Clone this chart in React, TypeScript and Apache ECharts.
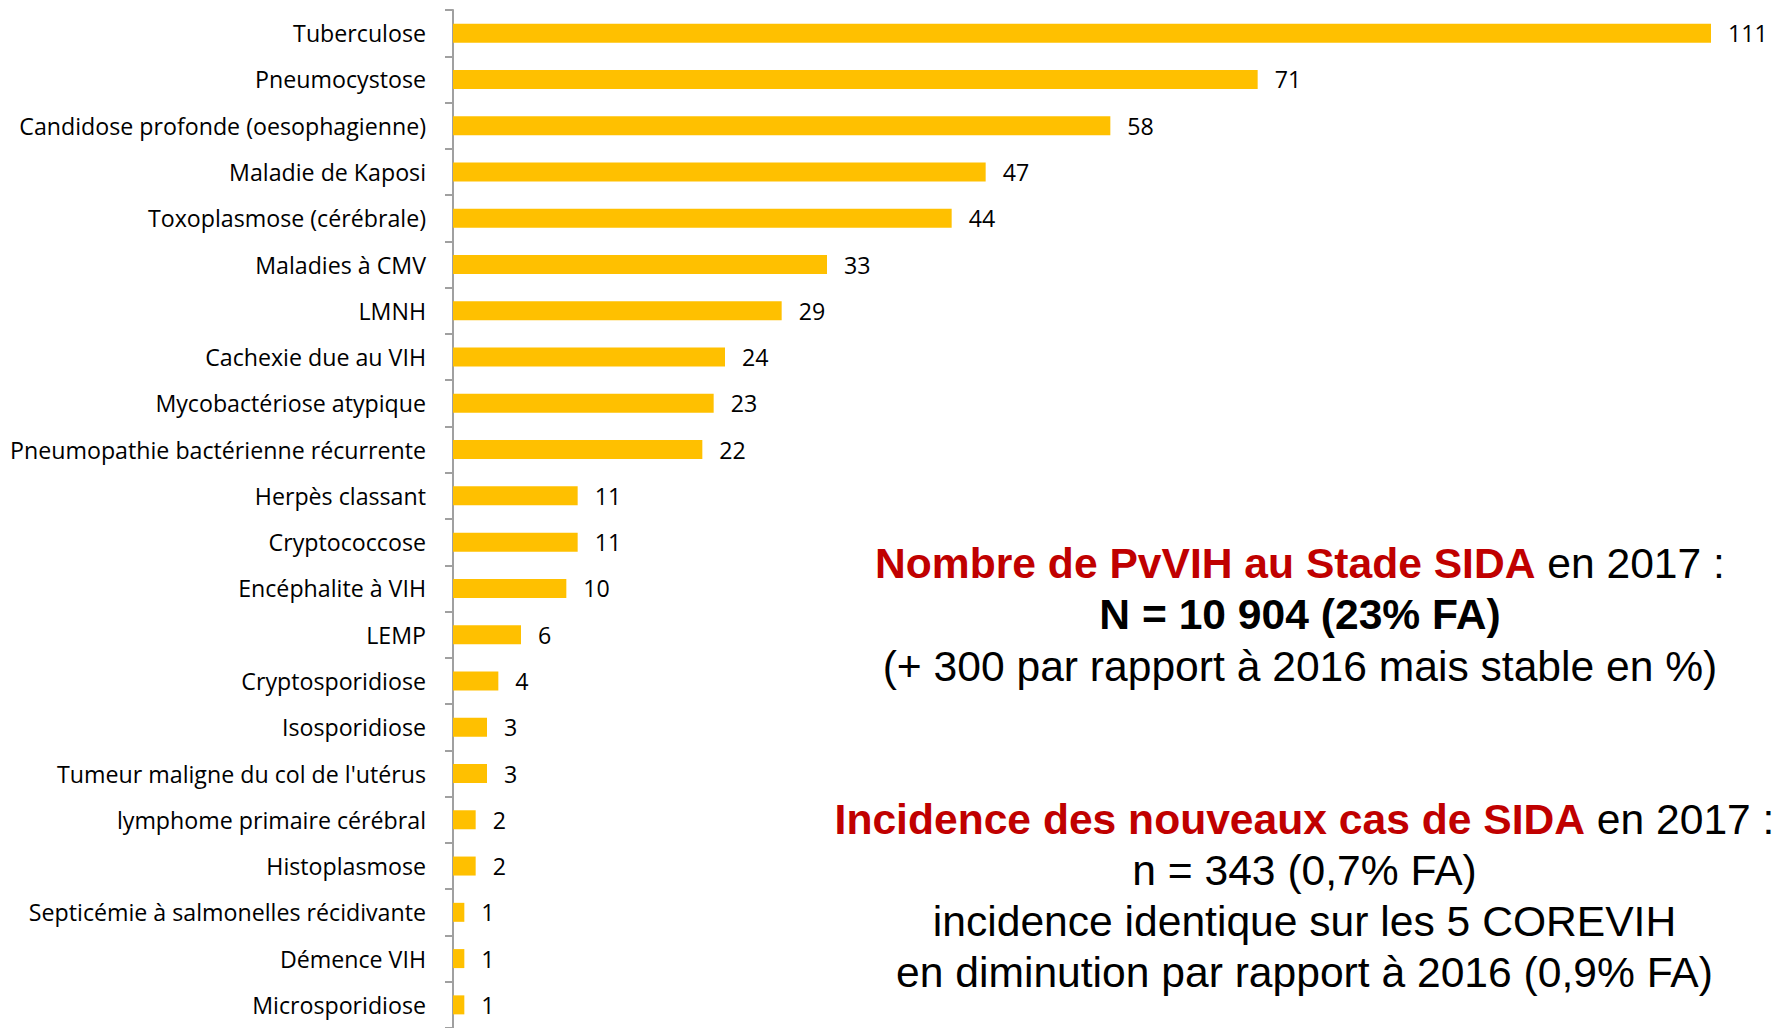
import React, { useEffect, useRef } from "react";
import * as echarts from "echarts";

const categories = [
  "Tuberculose",
  "Pneumocystose",
  "Candidose profonde (oesophagienne)",
  "Maladie de Kaposi",
  "Toxoplasmose (cérébrale)",
  "Maladies à CMV",
  "LMNH",
  "Cachexie due au VIH",
  "Mycobactériose atypique",
  "Pneumopathie bactérienne récurrente",
  "Herpès classant",
  "Cryptococcose",
  "Encéphalite à VIH",
  "LEMP",
  "Cryptosporidiose",
  "Isosporidiose",
  "Tumeur maligne du col de l'utérus",
  "lymphome primaire cérébral",
  "Histoplasmose",
  "Septicémie à salmonelles récidivante",
  "Démence VIH",
  "Microsporidiose",
];

const values = [111, 71, 58, 47, 44, 33, 29, 24, 23, 22, 11, 11, 10, 6, 4, 3, 3, 2, 2, 1, 1, 1];

const block1 = [
  "{r|Nombre de PvVIH au Stade SIDA}{n| en 2017 :}",
  "{b|N = 10 904 (23% FA)}",
  "{n|(+ 300 par rapport à 2016 mais stable en %)}",
];
const block2 = [
  "{r|Incidence des nouveaux cas de SIDA}{n| en 2017 :}",
  "{n|n = 343 (0,7% FA)}",
  "{n|incidence identique sur les 5 COREVIH}",
  "{n|en diminution par rapport à 2016 (0,9% FA)}",
];

export default function App() {
  const ref = useRef<HTMLDivElement>(null);
  useEffect(() => {
    if (!ref.current) return;
    const chart = echarts.init(ref.current, null, { renderer: "svg" });
    const FS = 42.6;
    const rich = {
      r: { fontFamily: "Liberation Sans", fontWeight: "bold", fontSize: FS, fill: "#C00000", color: "#C00000" },
      n: { fontFamily: "Liberation Sans", fontWeight: "normal", fontSize: FS, fill: "#000000", color: "#000000" },
      b: { fontFamily: "Liberation Sans", fontWeight: "bold", fontSize: FS, fill: "#000000", color: "#000000" },
    };
    const mk = (lines: string[], cx: number, ys: number[]) =>
      lines.map((t, i) => ({
        type: "text",
        x: cx,
        y: ys[i],
        style: {
          text: t,
          rich,
          align: "center",
          verticalAlign: "middle",
          fontFamily: "Liberation Sans",
          fontSize: FS,
        },
      }));
    chart.setOption({
      animation: false,
      backgroundColor: "#ffffff",
      grid: { left: 453, right: 70, top: 10, bottom: -4.5, containLabel: false },
      xAxis: {
        type: "value",
        min: 0,
        max: 111,
        show: false,
        splitLine: { show: false },
      },
      yAxis: {
        type: "category",
        data: categories,
        inverse: true,
        axisLine: { show: true, lineStyle: { color: "#A0A0A0", width: 2 } },
        axisTick: { show: true, length: 8, lineStyle: { color: "#A0A0A0", width: 2 } },
        axisLabel: {
          margin: 27,
          fontFamily: "Open Sans",
          fontSize: 23.2,
          color: "#000000",
          padding: [2, 0, 0, 0],
        },
      },
      series: [
        {
          type: "bar",
          data: values,
          barWidth: 19,
          itemStyle: { color: "#FFC000" },
          label: {
            show: true,
            position: "right",
            distance: 17,
            fontFamily: "Open Sans",
            fontSize: 23.2,
            color: "#000000",
            padding: [2, 0, 0, 0],
          },
        },
      ],
      graphic: [
        ...mk(block1, 1300, [563, 614, 666]),
        ...mk(block2, 1304.5, [819, 870, 921, 972]),
      ],
    });
    return () => chart.dispose();
  }, []);
  return (
    <div
      ref={ref}
      style={{ position: "absolute", left: 0, top: 0, width: 1781, height: 1028 }}
    />
  );
}
